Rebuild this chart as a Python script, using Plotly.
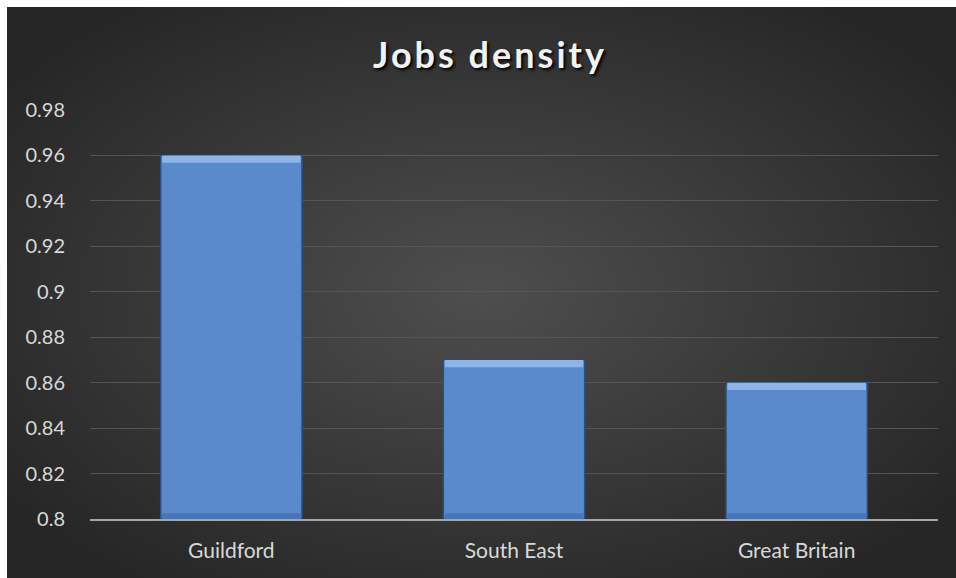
import plotly.graph_objects as go
import urllib.parse

# Data
categories = ["Guildford", "South East", "Great Britain"]
jobs_density = [0.96, 0.87, 0.86]
y_ticks = [0.8, 0.82, 0.84, 0.86, 0.88, 0.9, 0.92, 0.94, 0.96, 0.98]
y_tick_labels = ["0.8", "0.82", "0.84", "0.86", "0.88", "0.9", "0.92", "0.94", "0.96", "0.98"]
axis_floor = 0.8

W, H = 956, 578
L, R, T, B = 90, 18, 110, 59
pw, ph = W - L - R, H - T - B
FONT = "Lato, 'Noto Sans', sans-serif"

# Radial dark background as an SVG image
svg = (
    '<svg xmlns="http://www.w3.org/2000/svg" width="949" height="571">'
    '<defs><radialGradient id="g" cx="50%" cy="50%" r="62%">'
    '<stop offset="0%" stop-color="#4e4e4e"/>'
    '<stop offset="100%" stop-color="#262626"/>'
    '</radialGradient></defs>'
    '<rect width="949" height="571" fill="url(#g)"/></svg>'
)
bg_src = "data:image/svg+xml;charset=utf-8," + urllib.parse.quote(svg)

top_bevel = 0.0032
bottom_bevel = 0.0025
fig = go.Figure()
# main bar body
fig.add_trace(go.Bar(
    x=categories, y=[v - axis_floor for v in jobs_density], base=axis_floor,
    marker=dict(color="#5a8acc", line=dict(color="#2a4f80", width=1.5)),
    hovertext=[str(v) for v in jobs_density], hoverinfo="x+text", showlegend=False,
))
# light bevel strip along the top edge
fig.add_trace(go.Bar(
    x=categories, y=[top_bevel] * len(jobs_density),
    base=[v - top_bevel for v in jobs_density],
    marker=dict(color="#8fb5e8", line=dict(width=0)),
    width=0.49, hoverinfo="skip", showlegend=False,
))
# darker strip along the bottom edge
fig.add_trace(go.Bar(
    x=categories, y=[bottom_bevel] * len(jobs_density),
    base=[axis_floor] * len(jobs_density),
    marker=dict(color="#4676b9", line=dict(width=0)),
    width=0.49, hoverinfo="skip", showlegend=False,
))

fig.update_layout(
    width=W, height=H,
    margin=dict(l=L, r=R, t=T, b=B, pad=0),
    paper_bgcolor="#ffffff",
    plot_bgcolor="rgba(0,0,0,0)",
    barmode="overlay",
    bargap=0.5,
    title=dict(
        text='<b><span style="letter-spacing:3px">Jobs density</span></b>',
        x=(490 - L) / pw, xref="paper", xanchor="center",
        y=1 - 55 / H, yref="container", yanchor="middle",
        font=dict(family=FONT, size=36, color="#f2f2f2",
                  shadow="2px 2px 3px #000000"),
    ),
    xaxis=dict(
        showgrid=False, showline=True, linecolor="#a6a6a6", linewidth=2,
        ticks="", tickfont=dict(family=FONT, size=21, color="#d9d9d9"),
        ticklabelstandoff=12,
    ),
    yaxis=dict(
        range=[0.8, 0.98], tickvals=y_ticks, ticktext=y_tick_labels,
        showgrid=True, gridcolor="#555555", gridwidth=1,
        zeroline=False, showline=False, ticks="",
        tickfont=dict(family=FONT, size=20, color="#d9d9d9"),
        ticklabelstandoff=24,
    ),
    images=[dict(
        source=bg_src, xref="paper", yref="paper",
        x=(7 - L) / pw, y=1 + (T - 7) / ph,
        sizex=(W - 7) / pw, sizey=(H - 7) / ph,
        xanchor="left", yanchor="top", sizing="stretch", layer="below",
    )],
)

fig.write_html("out.html")
